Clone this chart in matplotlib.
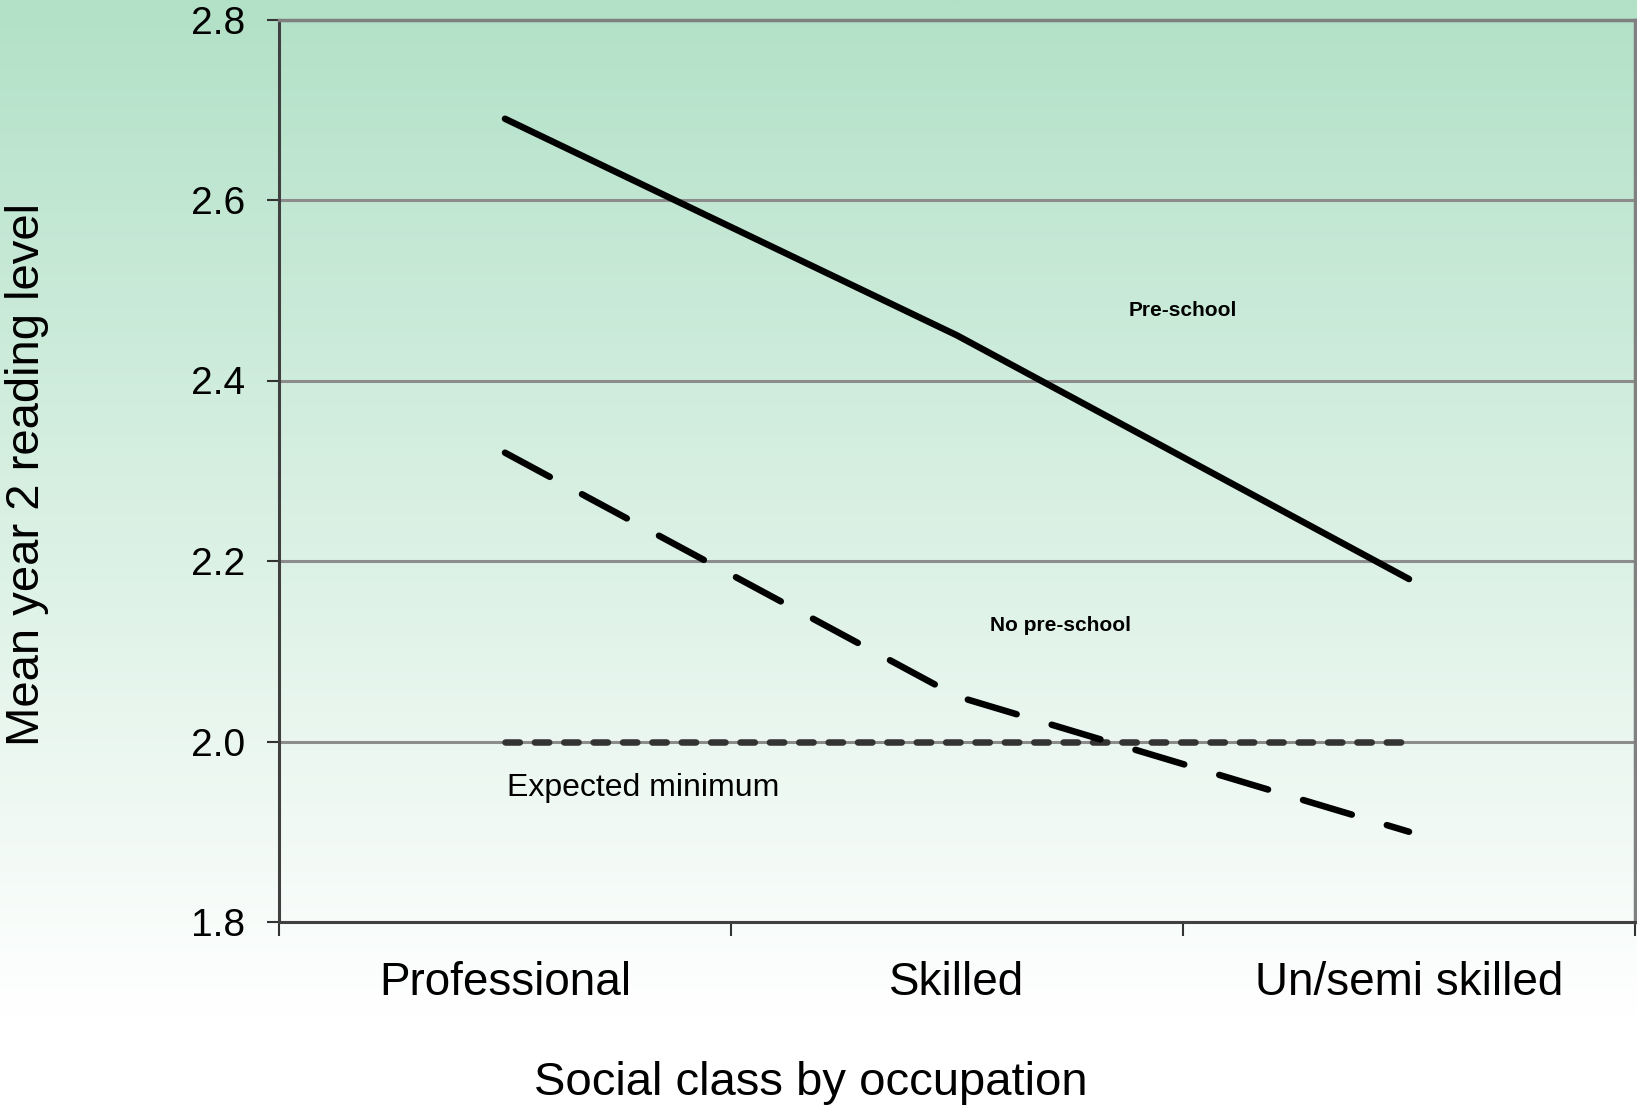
import numpy as np
import matplotlib
matplotlib.use("Agg")
import matplotlib.pyplot as plt
from matplotlib.colors import LinearSegmentedColormap

plt.rcParams['font.family'] = ['Liberation Sans', 'DejaVu Sans']

categories = ["Professional", "Skilled", "Un/semi skilled"]
pre_school = [2.69, 2.45, 2.18]
no_pre_school = [2.32, 2.05, 1.90]
expected_minimum = [2.0, 2.0, 2.0]
yticks = [1.8, 2.0, 2.2, 2.4, 2.6, 2.8]

fig = plt.figure(figsize=(16.37, 11.05), dpi=100)

# background gradient over the whole figure
bg = fig.add_axes([0, 0, 1, 1], zorder=-10)
grad = np.linspace(0, 1, 512).reshape(-1, 1)
cmap = LinearSegmentedColormap.from_list("g", [(0.0, "#b2e1c7"), (0.92, "#ffffff"), (1.0, "#ffffff")])
bg.imshow(grad, aspect="auto", cmap=cmap, extent=[0, 1, 0, 1], origin="upper")
bg.axis("off")

ax = fig.add_axes([279/1637, 1 - 922/1105, (1635-279)/1637, (922-19.5)/1105])
ax.set_facecolor("none")

x = np.arange(len(categories)) + 0.5

ax.plot(x, pre_school, color="black", lw=4.7, solid_capstyle="round", zorder=5)
ax.plot(x, no_pre_school, color="black", lw=4.7, dash_capstyle="round",
        dashes=(7.8, 5.6), zorder=5)
ax.plot(x, expected_minimum, color="#333333", lw=4.7, dash_capstyle="round",
        dashes=(2.2, 2.3), zorder=4)

ax.set_xlim(0, 3)
ax.set_ylim(1.8, 2.8)
ax.set_yticks(yticks)
ax.set_yticklabels([f"{v:.1f}" for v in yticks], fontsize=28)
ax.yaxis.grid(True, color="#8c8c8c", lw=2.2, zorder=1)
ax.set_axisbelow(True)

ax.set_xticks([0, 1, 2, 3])
ax.set_xticklabels([])
ax.set_xticks(x, minor=True)
ax.set_xticklabels(categories, minor=True, fontsize=33)
ax.tick_params(axis="x", which="major", length=10, width=1.5, color="#333333", direction="out")
ax.tick_params(axis="x", which="minor", length=0, pad=28)
ax.tick_params(axis="y", length=8.6, width=1.5, color="#333333", pad=16)

for s in ["left", "bottom"]:
    ax.spines[s].set_color("#404040")
    ax.spines[s].set_linewidth(2.2)
for s in ["top", "right"]:
    ax.spines[s].set_color("#808080")
    ax.spines[s].set_linewidth(2.5)

ax.text(2.0, 2.478, "Pre-school", fontsize=15, fontweight="bold", ha="center", va="center")
ax.text(1.728, 2.129, "No pre-school", fontsize=15, fontweight="bold", ha="center", va="center")
ax.text(0.504, 1.948, "Expected minimum", fontsize=23, ha="left", va="center")

fig.text(811/1637, 1 - 1083/1105, "Social class by occupation", fontsize=34, ha="center", va="center")
fig.text(27/1637, 1 - 474/1105, "Mean year 2 reading level", fontsize=34, ha="center", va="center", rotation=90)

fig.savefig("out.png", dpi=100)
